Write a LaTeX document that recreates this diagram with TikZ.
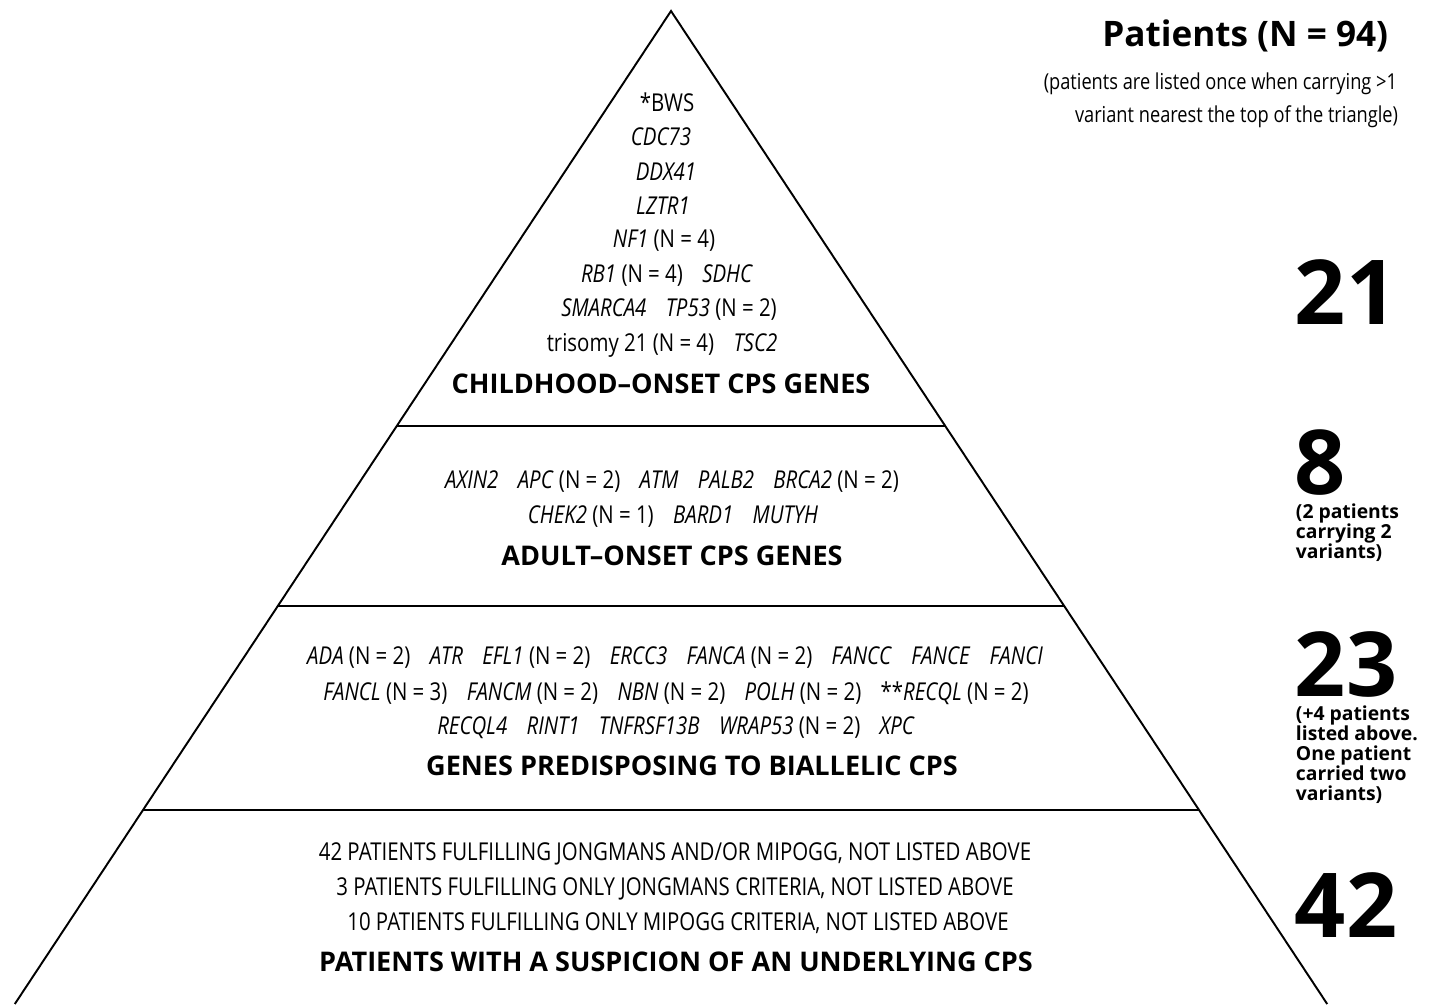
\documentclass[tikz,border=0pt]{standalone}
\usepackage{fontspec}
\setmainfont{Open Sans}
\newfontfamily\thinfont{Open Sans}[FakeStretch=0.83]
\newcommand\gap{\hspace{11pt}}
\usepackage{tikz}

\begin{document}
\begin{tikzpicture}[x=0.02cm, y=-0.02cm, line width=1.1pt,
        row/.style={inner sep=0pt, font=\thinfont\fontsize{14}{17}\selectfont},
        head/.style={inner sep=0pt, font=\bfseries\fontsize{15.4}{19}\selectfont},
        big/.style={inner sep=0pt, anchor=west, font=\bfseries\fontsize{51}{56}\selectfont},
        note/.style={inner sep=0pt, anchor=north west, align=left, font=\bfseries\fontsize{11}{11.4}\selectfont}]
    \useasboundingbox (0,0) rectangle (1442,1004);
    % triangle
    \coordinate (top) at (671,11);
    \coordinate (bl) at (14.8,1004);
    \coordinate (br) at (1327.2,1004);
    \coordinate (l1) at (396.8,426);  \coordinate (r1) at (945.2,426);
    \coordinate (l2) at (277.8,606);  \coordinate (r2) at (1064.2,606);
    \coordinate (l3) at (143,810);    \coordinate (r3) at (1199,810);
    \draw (bl) -- (top) -- (br);
    \draw (l1) -- (r1);
    \draw (l2) -- (r2);
    \draw (l3) -- (r3);
    % childhood-onset
    \node[row] (c1) at (667,102) {*BWS};
    \node[row] (c2) at (661,137) {\textit{CDC73}};
    \node[row] (c3) at (666,172) {\textit{DDX41}};
    \node[row] (c4) at (663,206) {\textit{LZTR1}};
    \node[row] (c5) at (664,241) {\textit{NF1} (N = 4)};
    \node[row] (c6) at (667,276) {\textit{RB1} (N = 4)\gap\textit{SDHC}};
    \node[row] (c7) at (669,310) {\textit{SMARCA4}\gap\textit{TP53} (N = 2)};
    \node[row] (c8) at (662,345) {trisomy 21 (N = 4)\gap\textit{TSC2}};
    \node[head] (child) at (661,384) {CHILDHOOD–ONSET CPS GENES};
    % adult-onset
    \node[row] (a1) at (672,482) {\textit{AXIN2}\gap\textit{APC} (N = 2)\gap\textit{ATM}\gap\textit{PALB2}\gap\textit{BRCA2} (N = 2)};
    \node[row] (a2) at (673,517) {\textit{CHEK2} (N = 1)\gap\textit{BARD1}\gap\textit{MUTYH}};
    \node[head] (adult) at (672,556) {ADULT–ONSET CPS GENES};
    % biallelic
    \node[row] (b1) at (675,658) {\textit{ADA} (N = 2)\gap\textit{ATR}\gap\textit{EFL1} (N = 2)\gap\textit{ERCC3}\gap\textit{FANCA} (N = 2)\gap\textit{FANCC}\gap\textit{FANCE}\gap\textit{FANCI}};
    \node[row] (b2) at (676,693) {\textit{FANCL} (N = 3)\gap\textit{FANCM} (N = 2)\gap\textit{NBN} (N = 2)\gap\textit{POLH} (N = 2)\gap**\textit{RECQL} (N = 2)};
    \node[row] (b3) at (676,728) {\textit{RECQL4}\gap\textit{RINT1}\gap\textit{TNFRSF13B}\gap\textit{WRAP53} (N = 2)\gap\textit{XPC}};
    \node[head] (biall) at (692,766) {GENES PREDISPOSING TO BIALLELIC CPS};
    % suspicion
    \node[row] (s1) at (675,854) {42 PATIENTS FULFILLING JONGMANS AND/OR MIPOGG, NOT LISTED ABOVE};
    \node[row] (s2) at (675,889) {3 PATIENTS FULFILLING ONLY JONGMANS CRITERIA, NOT LISTED ABOVE};
    \node[row] (s3) at (678,923) {10 PATIENTS FULFILLING ONLY MIPOGG CRITERIA, NOT LISTED ABOVE};
    \node[head] (susp) at (676,962) {PATIENTS WITH A SUSPICION OF AN UNDERLYING CPS};
    % right column
    \node[inner sep=0pt, anchor=east, font=\bfseries\fontsize{20}{24}\selectfont] (title) at (1389,36) {Patients (N = 94)};
    \node[row, anchor=east, font=\thinfont\fontsize{12.5}{15}\selectfont] (t1) at (1398,84) {(patients are listed once when carrying >1};
    \node[row, anchor=east, font=\thinfont\fontsize{12.5}{15}\selectfont] (t2) at (1399,117) {variant nearest the top of the triangle)};
    \node[big] (n21) at (1294,292) {21};
    \node[big] (n8) at (1294,463) {8};
    \node[note] (n8note) at (1295,503) {(2 patients\\carrying 2\\variants)};
    \node[big] (n23) at (1294,664) {23};
    \node[note] (n23note) at (1295,705) {(+4 patients\\listed above.\\One patient\\carried two\\variants)};
    \node[big] (n42) at (1294,905) {42};
\end{tikzpicture}
\end{document}
